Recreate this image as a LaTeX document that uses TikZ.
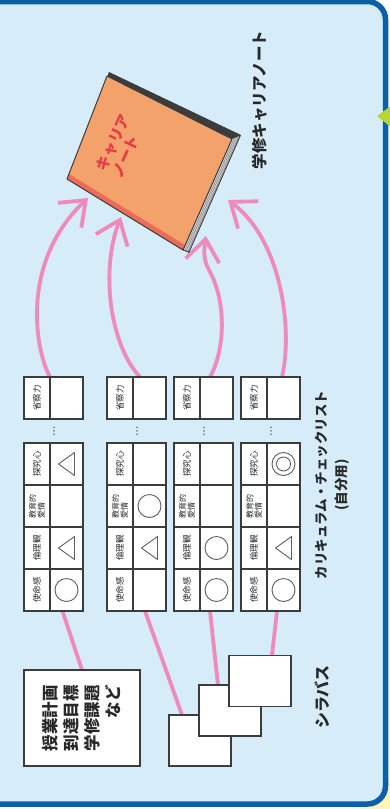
\documentclass[tikz,border=0pt]{standalone}
\usepackage{fontspec}
\newfontfamily\jp{Noto Sans CJK JP}
\newfontfamily\symfont{DejaVu Sans}
\usetikzlibrary{arrows.meta,calc}

\definecolor{panelblue}{RGB}{214,236,248}
\definecolor{frameblue}{RGB}{12,96,170}
\definecolor{linkpink}{RGB}{238,138,188}
\definecolor{gridgrey}{RGB}{60,60,60}
\definecolor{textgrey}{RGB}{40,40,40}
\definecolor{markgrey}{RGB}{95,95,95}
\definecolor{coverorange}{RGB}{243,162,108}
\definecolor{titlered}{RGB}{232,57,74}
\definecolor{spinered}{RGB}{236,108,90}
\definecolor{pagegrey}{RGB}{215,215,215}
\definecolor{leafgreen}{RGB}{184,212,54}
\definecolor{cornerbeige}{RGB}{255,244,184}

\pgfdeclarelayer{frame}
\pgfdeclarelayer{links}
\pgfsetlayers{frame,links,main}

\tikzset{
  pinkline/.style={draw=linkpink, line width=3.8pt},
  pinkarrow/.style={pinkline, -{Straight Barb[length=22pt,width=34pt]}},
  labcell/.style={rotate=90, draw=gridgrey, line width=1.2pt, fill=white,
    minimum width=42pt, minimum height=26pt, inner sep=0pt, outer sep=0pt,
    text=textgrey, font=\jp\fontsize{8.5}{9.5}\selectfont},
  valcell/.style={labcell, minimum height=33pt},
  markline/.style={draw=markgrey, line width=0.9pt},
  paperbox/.style={draw=gridgrey, line width=1.4pt, fill=white, inner sep=0pt, outer sep=0pt},
  caption/.style={rotate=90, text=textgrey, inner sep=0pt},
}

% one mark in a value cell: 0 none, 1 circle, 2 triangle, 3 double circle
\newcommand\drawmark[3]{\ifcase#3\relax\or
  \draw[markline] (#1,#2) circle[radius=11.5pt];\or
  \draw[markline] (#1-8,#2) -- (#1+8,#2-11.5) -- (#1+8,#2+11.5) -- cycle;\or
  \draw[markline] (#1,#2) circle[radius=11.5pt] (#1,#2) circle[radius=7pt];\fi}

% one column of the checklist: name, left edge, marks for the four upper rows
\newcommand\checkstrip[6]{%
  \pgfmathsetmacro\labx{#2+13}%
  \pgfmathsetmacro\valx{#2+42.5}%
  \node[labcell] (#1a) at (\labx,590) {使命感};
  \node[valcell] (#1A) at (\valx,590) {};
  \node[labcell] (#1b) at (\labx,548) {倫理観};
  \node[valcell] (#1B) at (\valx,548) {};
  \node[labcell, align=left, font=\jp\fontsize{8}{8.6}\selectfont] (#1c) at (\labx,506) {教育的\\愛情};
  \node[valcell] (#1C) at (\valx,506) {};
  \node[labcell] (#1d) at (\labx,464) {探究心};
  \node[valcell] (#1D) at (\valx,464) {};
  \node[labcell] (#1e) at (\labx,398) {省察力};
  \node[valcell] (#1E) at (\valx,398) {};
  \node[text=textgrey, font=\symfont\fontsize{10}{10}\selectfont, inner sep=0pt] (#1dots) at (#2+30,431) {⋮};
  \drawmark{\valx}{590}{#3}
  \drawmark{\valx}{548}{#4}
  \drawmark{\valx}{506}{#5}
  \drawmark{\valx}{464}{#6}
}

\begin{document}
\begin{tikzpicture}[x=1pt,y=-1pt]
\useasboundingbox (0,0) rectangle (390,809);

% panel with its rounded frame
\begin{pgfonlayer}{frame}
  \fill[white] (0,0) rectangle (390,809);
  \fill[cornerbeige] (360,780) rectangle (390,809);
  \draw[frameblue, line width=5.5pt, fill=panelblue, rounded corners=18pt]
    (-30,1.5) rectangle (385.5,804);
  \fill[leafgreen] (377,116) -- (392,105) -- (392,128) -- cycle;
\end{pgfonlayer}

% checklist columns
\checkstrip{s1}{24}{1}{2}{0}{2}
\checkstrip{s2}{107}{0}{2}{1}{0}
\checkstrip{s3}{174}{1}{1}{0}{0}
\checkstrip{s4}{241}{1}{2}{0}{3}

% syllabus sheets and the memo box
\node[paperbox, rotate=90, minimum width=96pt, minimum height=116pt, align=right,
  text=textgrey, font=\jp\bfseries\fontsize{16.5}{21}\selectfont] (memo) at (82,718)
  {授業計画\\到達目標\\学修課題\\など};
\node[paperbox, minimum width=62pt, minimum height=51pt] (syl1) at (200,740.5) {};
\node[paperbox, minimum width=62pt, minimum height=51pt] (syl2) at (230,710.5) {};
\node[paperbox, minimum width=62pt, minimum height=51pt] (syl3) at (260,681) {};

% captions
\node[caption, font=\jp\bfseries\fontsize{15.5}{18}\selectfont] (notecap) at (260,100) {学修キャリアノート};
\node[caption, align=center, font=\jp\bfseries\fontsize{13.5}{20}\selectfont] (listcap) at (332,485)
  {カリキュラム・チェックリスト\\(自分用)};
\node[caption, font=\jp\bfseries\fontsize{16}{18}\selectfont] (sylcap) at (322,697) {シラバス};

% arrow tips at the notebook
\coordinate (tip1) at (88,198);
\coordinate (tip2) at (121,217);
\coordinate (tip3) at (206,236);
\coordinate (tip4) at (228,200);

\coordinate (a1) at (s1E.north east);
\coordinate (a2) at ($(s2E.north east)+(7,0)$);
\coordinate (a3) at ($(s3E.north east)+(10,0)$);
\coordinate (a4) at ($(s4E.north east)+(15,0)$);

\begin{pgfonlayer}{links}
  % syllabus to checklist
  \draw[pinkline] ($(s1A.north west)+(12.5,0)$) -- (memo.east);
  \draw[pinkline] ($(s2A.north west)+(12,0)$) -- ($(syl1.north west)+(13,0)$);
  \draw[pinkline] ($(s3A.north west)+(10,0)$) -- ($(syl2.north west)+(19,0)$);
  \draw[pinkline] ($(s4A.north west)+(10,0)$) -- ($(syl3.north west)+(43,0)$);
  % checklist to notebook
  \draw[pinkarrow] (a1) .. controls (35,350) and (20,262) .. (tip1);
  \draw[pinkarrow] (a2) .. controls (110,345) and (100,270) .. (tip2);
  \draw[pinkarrow] (a3) .. controls (226,348) and (226,300) .. (209,270)
                        .. controls (203,259) and (204,250) .. (tip3);
  \draw[pinkarrow] (a4) .. controls (293,330) and (282,240) .. (tip4);
\end{pgfonlayer}

% the notebook
\fill[gridgrey] (109,72) -- (241,135) -- (189,253) -- (71,181) -- cycle;
\fill[pagegrey] (232,139) -- (240,136) -- (189,252) -- (183,250) -- cycle;
\draw[gray, line width=0.5pt] (234.4,138.1) -- (184.8,250.6)
  (236.4,137.3) -- (186.3,251.1) (238.4,136.6) -- (187.8,251.6);
\fill[coverorange] (107,76) -- (232,139) -- (183,250) -- (67,179) -- cycle;
\fill[spinered] (67,179) -- (183,250) -- (185,245) -- (69,174) -- cycle;
\draw[gridgrey, line width=1pt, line join=round]
  (107,76) -- (232,139) -- (183,250) -- (67,179) -- cycle;
\draw[gridgrey, line width=0.8pt] (240,136) -- (189,252) -- (183,250);
\node[rotate=65, align=left, text=titlered, inner sep=0pt,
  font=\jp\bfseries\fontsize{15}{17}\selectfont] (covertitle) at (121,146) {キャリア\\ノート};
\end{tikzpicture}
\end{document}
